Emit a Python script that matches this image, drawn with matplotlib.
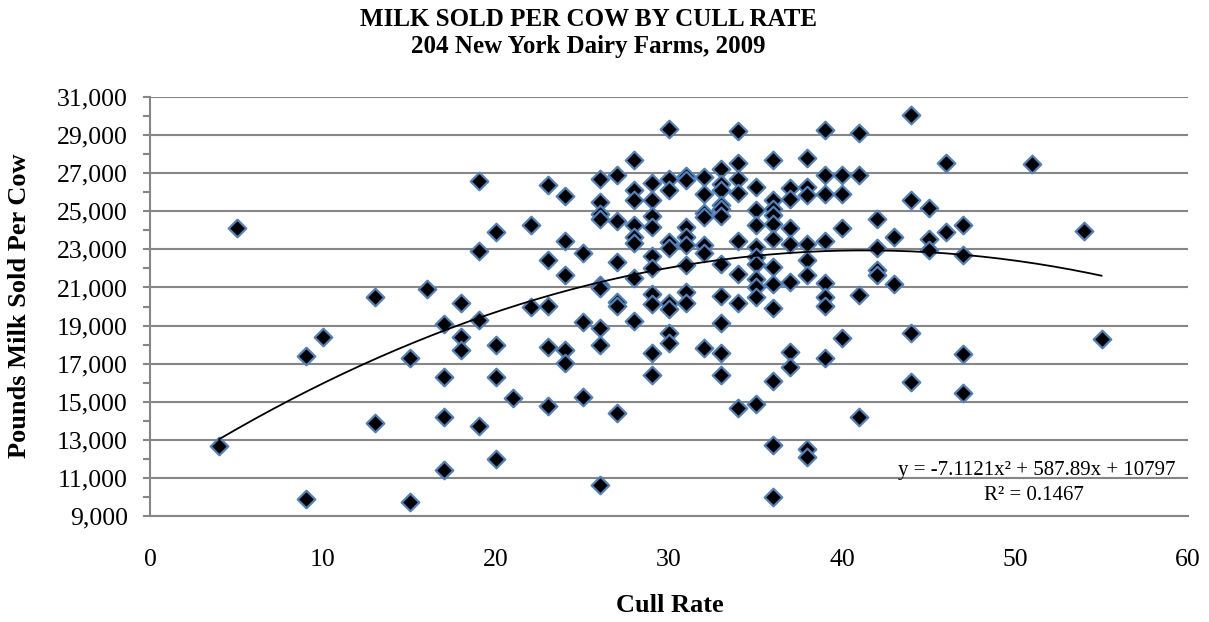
import numpy as np
import matplotlib
matplotlib.use('Agg')
import matplotlib.pyplot as plt
from matplotlib.ticker import FuncFormatter, MultipleLocator

# cull rate (%) y libras de leche vendida por vaca
cull_rate = [
    4, 5, 9, 9, 10, 13, 13, 15, 15, 16,
    17, 17, 17, 17, 18, 18, 18, 19, 19, 19, 19,
    20, 20, 20, 20, 21, 22, 22,
    23, 23, 23, 23, 23,
    24, 24, 24, 24, 24,
    25, 25, 25,
    26, 26, 26, 26, 26, 26, 26, 26, 26,
    27, 27, 27, 27, 27, 27,
    28, 28, 28, 28, 28, 28, 28, 28,
    29, 29, 29, 29, 29, 29, 29, 29, 29, 29,
    30, 30, 30, 30, 30, 30, 30, 30, 30,
    31, 31, 31, 31, 31, 31, 31, 31,
    32, 32, 32, 32, 32, 32, 32,
    33, 33, 33, 33, 33, 33, 33, 33, 33, 33, 33,
    34, 34, 34, 34, 34, 34, 34, 34,
    35, 35, 35, 35, 35, 35, 35, 35, 35, 35,
    36, 36, 36, 36, 36, 36, 36, 36, 36, 36, 36, 36,
    37, 37, 37, 37, 37, 37, 37,
    38, 38, 38, 38, 38, 38, 38, 38,
    39, 39, 39, 39, 39, 39, 39, 39,
    40, 40, 40, 40,
    41, 41, 41, 41,
    42, 42, 42, 42,
    43, 43,
    44, 44, 44, 44,
    45, 45, 45,
    46, 46,
    47, 47, 47, 47,
    51, 54, 55,
]
milk_per_cow = [
    12700, 24100, 17400, 9900, 18400, 20500, 13900, 17300, 9750, 20900,
    19100, 16300, 14200, 11400, 20200, 18400, 17700, 26600, 22900, 19300, 13700,
    23900, 18000, 16300, 12000, 15200, 24300, 20000,
    26400, 22460, 20030, 17860, 14780,
    25790, 23420, 21630, 17720, 17020,
    22810, 19210, 15270,
    26720, 25490, 24880, 24600, 21110, 20950, 18890, 17980, 10630,
    26930, 24480, 22340, 20250, 20030, 14430,
    27700, 26110, 25590, 24270, 23660, 23350, 21490, 19260,
    26460, 25590, 24730, 24170, 22650, 22020, 20640, 20130, 17540, 16400,
    29300, 26720, 26110, 23390, 23090, 20200, 19850, 18590, 18070,
    26840, 26650, 24170, 23650, 23210, 22160, 20770, 20200,
    26810, 25890, 24900, 24720, 23220, 22810, 17800,
    27210, 26430, 26110, 25320, 25120, 24730, 22250, 20560, 19120, 17540, 16400,
    29230, 27560, 26720, 25940, 23420, 21720, 20210, 14650,
    26280, 25080, 24290, 23130, 22610, 22250, 21460, 21020, 20510, 14900,
    27670, 25590, 25140, 24800, 24350, 23560, 22070, 21160, 19900, 16110, 12730, 10020,
    26230, 25670, 24120, 23300, 21280, 17630, 16810,
    27810, 26280, 25880, 23300, 22460, 21630, 12500, 12120,
    29260, 26900, 25930, 23440, 21230, 20510, 20030, 17310,
    26900, 25930, 24140, 18360,
    29090, 26930, 20590, 14180,
    24580, 23060, 21900, 21630,
    23650, 21190,
    30050, 25580, 18590, 16020,
    25190, 23560, 22950,
    27540, 23910,
    24270, 22690, 17510, 15480,
    27470, 23990, 18290,
]

# coeficientes de la linea de tendencia (polinomica de grado 2) mostrados en el grafico
coef_a, coef_b, coef_c = -7.1121, 587.89, 10797
r2 = 0.1467

plt.rcParams['font.family'] = ['Liberation Serif', 'DejaVu Serif']

W, H = 1209, 622
fig = plt.figure(figsize=(W / 100, H / 100), dpi=100)
ax = fig.add_axes([150 / W, 1 - 516 / H, (1188 - 150) / W, (516 - 97) / H])

ax.scatter(cull_rate, milk_per_cow, marker='D', s=80, facecolor='black',
           edgecolor='#4F81BD', linewidth=1.6, zorder=3)

xs = np.linspace(min(cull_rate), max(cull_rate), 200)
ax.plot(xs, coef_a * xs ** 2 + coef_b * xs + coef_c, color='black', lw=1.3, zorder=4)

ax.set_xlim(0, 60)
ax.set_ylim(9000, 31000)
ax.set_xticks(range(0, 61, 10))
ax.set_yticks(range(9000, 31001, 2000))
ax.yaxis.set_minor_locator(MultipleLocator(1000))
ax.yaxis.set_major_formatter(FuncFormatter(lambda v, p: f'{v:,.0f}'))

ax.grid(axis='y', which='major', color='#868686', lw=1.5)
ax.set_axisbelow(True)
for s in ['top', 'right']:
    ax.spines[s].set_visible(False)
for s in ['left', 'bottom']:
    ax.spines[s].set_color('#868686')
    ax.spines[s].set_linewidth(1.5)

ax.tick_params(axis='x', length=0, pad=24, labelsize=18.5)
ax.tick_params(axis='y', which='both', direction='out', length=5,
               color='#868686', width=1.5, labelsize=18.5, pad=11)

# titulo y etiquetas
fig.text(588 / W, 1 - 19 / H, 'MILK SOLD PER COW BY CULL RATE', ha='center', va='center',
         fontsize=18, fontweight='bold')
fig.text(588 / W, 1 - 47 / H, '204 New York Dairy Farms, 2009', ha='center', va='center',
         fontsize=18, fontweight='bold')
fig.text(20 / W, 1 - 306 / H, 'Pounds Milk Sold Per Cow', ha='center', va='center',
         rotation=90, fontsize=19, fontweight='bold')
fig.text(670 / W, 1 - 606 / H, 'Cull Rate', ha='center', va='center',
         fontsize=19, fontweight='bold')

# ecuacion de la tendencia
fig.text(1175 / W, 1 - 475 / H, f'y = {coef_a}x² + {coef_b}x + {coef_c}',
         ha='right', va='baseline', fontsize=15)
fig.text(1034 / W, 1 - 500 / H, f'R² = {r2}', ha='center', va='baseline', fontsize=15)

fig.savefig('out.png', dpi=100)
